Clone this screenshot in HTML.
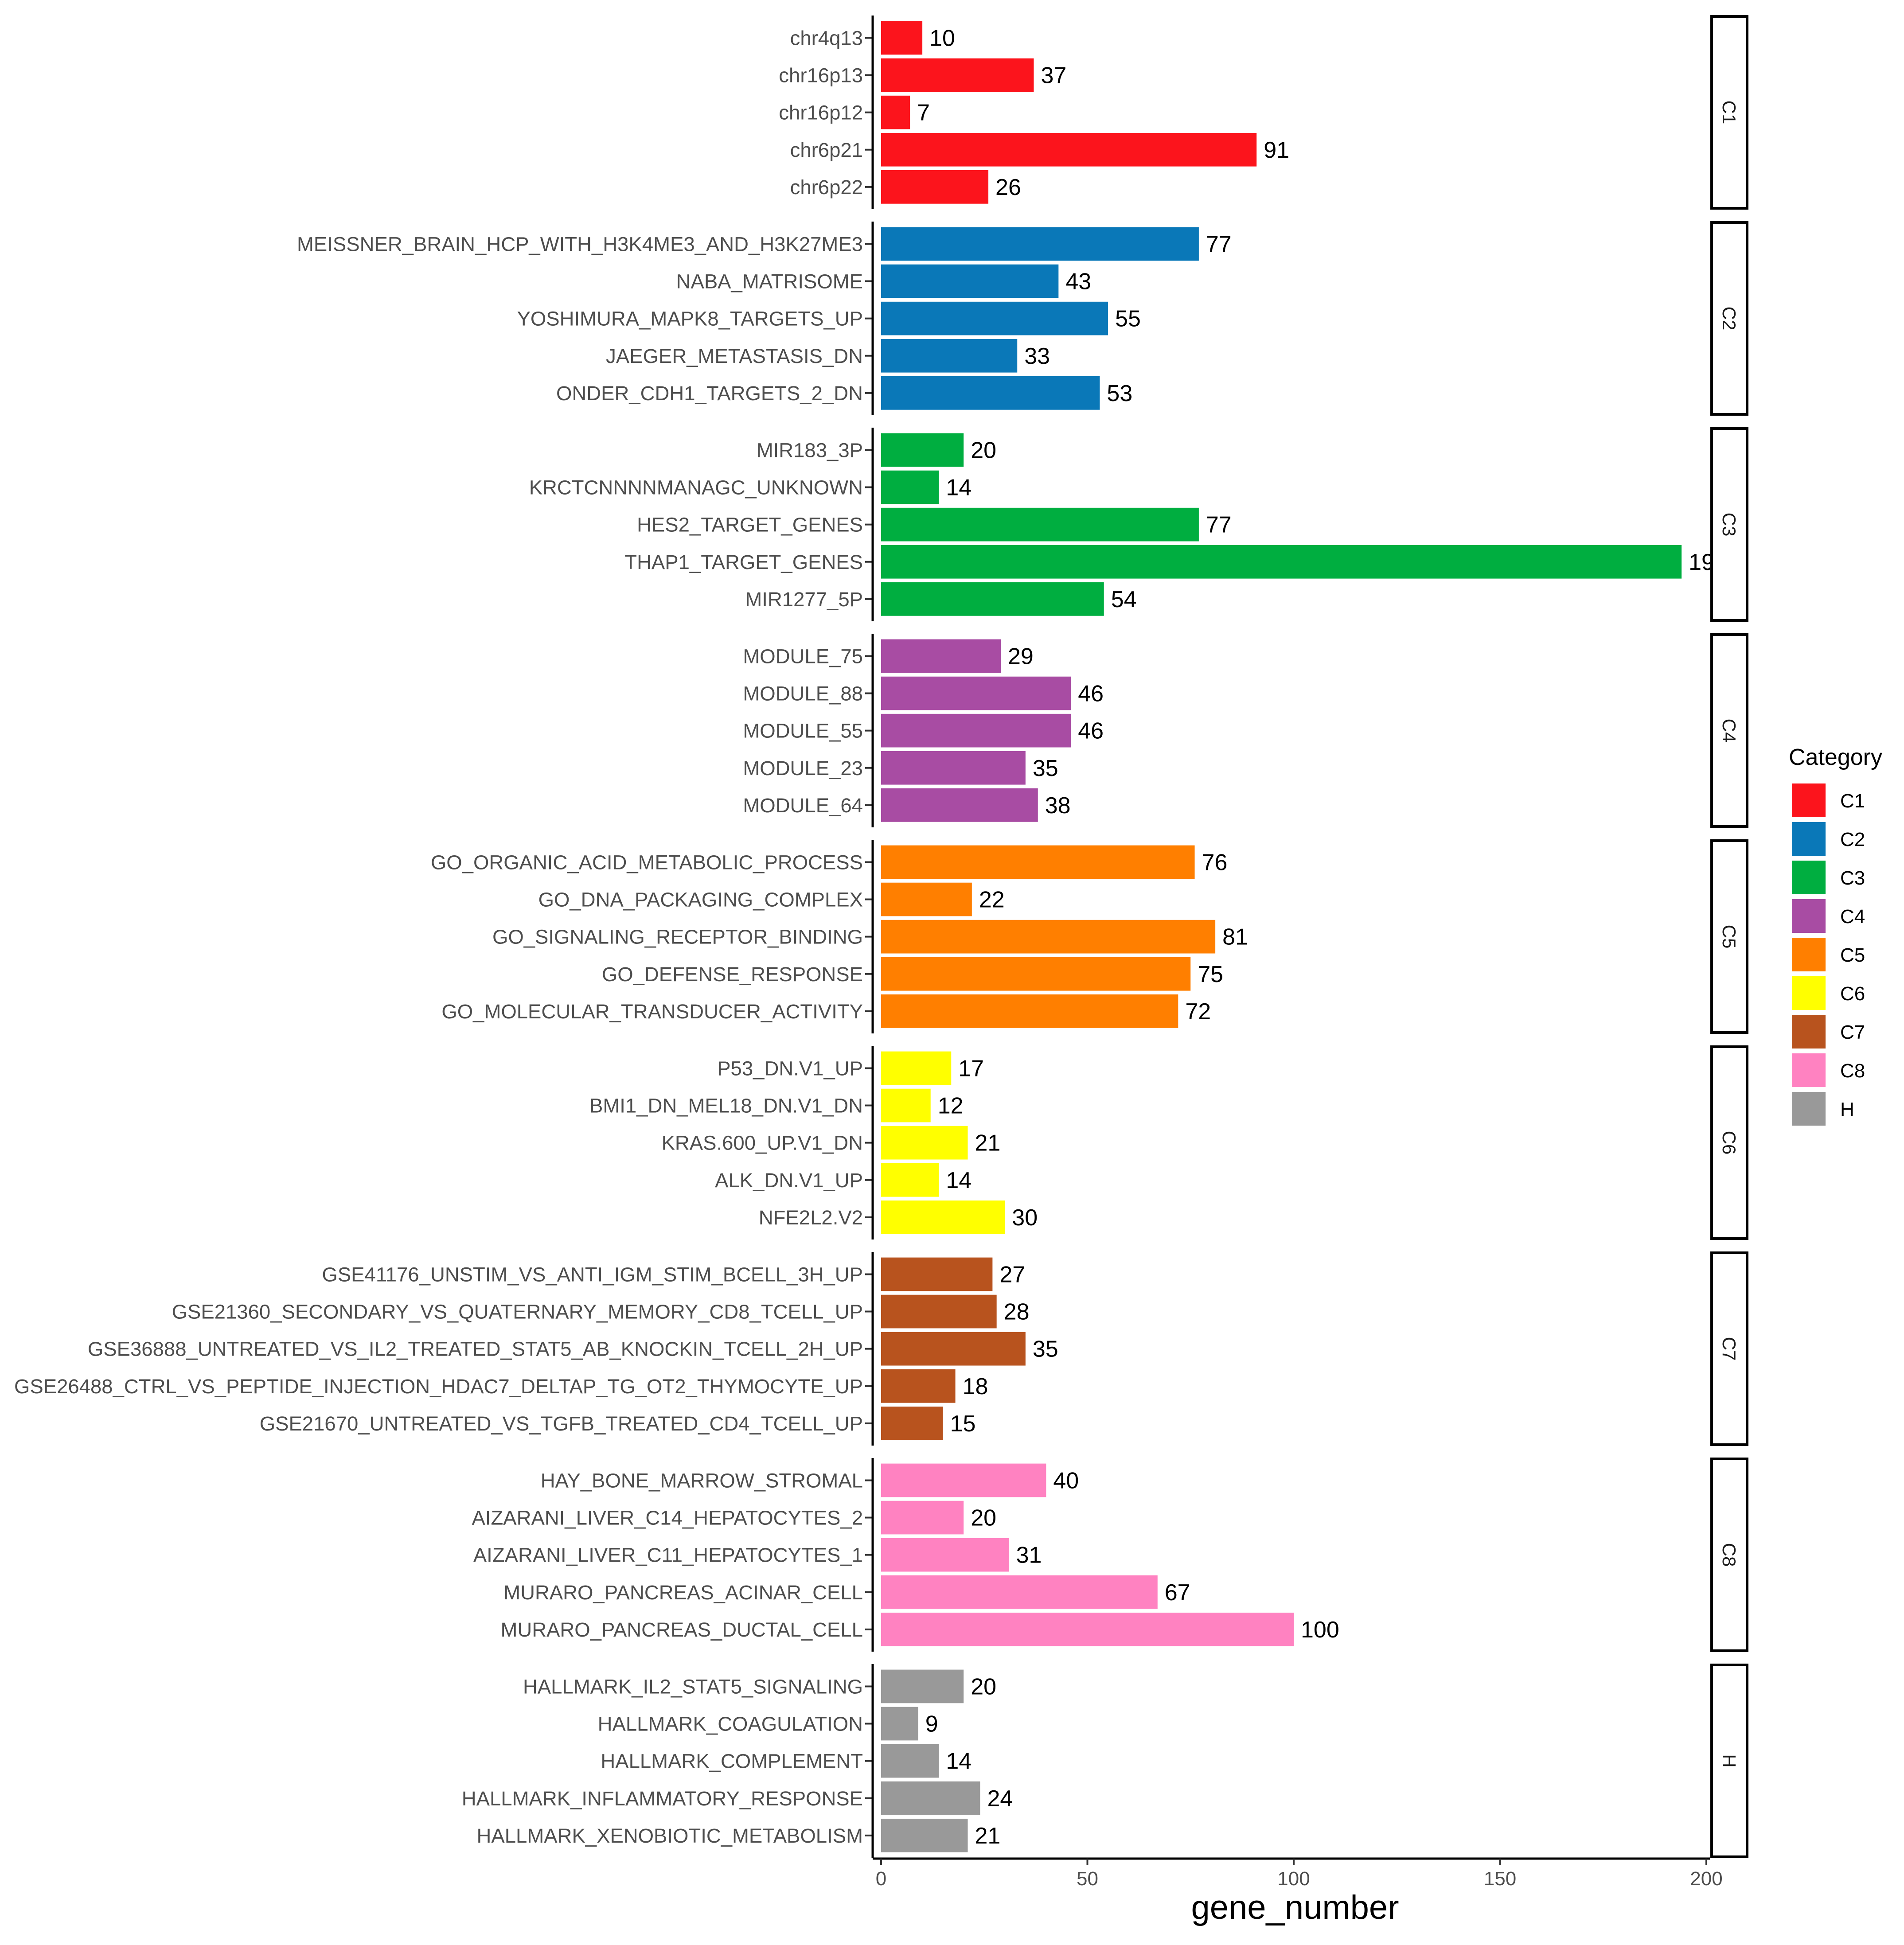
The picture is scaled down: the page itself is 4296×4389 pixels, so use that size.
<!DOCTYPE html>
<html><head><meta charset="utf-8"><style>
html,body{margin:0;padding:0;background:#fff;}
svg{display:block;font-family:"Liberation Sans",Arial,sans-serif;}
</style></head><body>
<svg id="chart" width="4296" height="4389" viewBox="0 0 4296 4389" xmlns="http://www.w3.org/2000/svg">
<rect width="4296" height="4389" fill="#fff"/>
<g id="panels"></g>
<g id="xaxis"></g>
<text x="2922" y="4330" font-size="76" text-anchor="middle" fill="#000">gene_number</text>
<g id="legend"></g>
</svg>
<script>
const categories = ["C1","C2","C3","C4","C5","C6","C7","C8","H"];
const colors = ["#fc141c","#0a78b8","#00ae40","#a84ca3","#ff7f00","#ffff00","#b8531e","#ff82c1","#999999"];
const termsC1 = ["chr4q13","chr16p13","chr16p12","chr6p21","chr6p22"];
const valsC1 = [10,37,7,91,26];
const termsC2 = ["MEISSNER_BRAIN_HCP_WITH_H3K4ME3_AND_H3K27ME3","NABA_MATRISOME","YOSHIMURA_MAPK8_TARGETS_UP","JAEGER_METASTASIS_DN","ONDER_CDH1_TARGETS_2_DN"];
const valsC2 = [77,43,55,33,53];
const termsC3 = ["MIR183_3P","KRCTCNNNNMANAGC_UNKNOWN","HES2_TARGET_GENES","THAP1_TARGET_GENES","MIR1277_5P"];
const valsC3 = [20,14,77,194,54];
const termsC4 = ["MODULE_75","MODULE_88","MODULE_55","MODULE_23","MODULE_64"];
const valsC4 = [29,46,46,35,38];
const termsC5 = ["GO_ORGANIC_ACID_METABOLIC_PROCESS","GO_DNA_PACKAGING_COMPLEX","GO_SIGNALING_RECEPTOR_BINDING","GO_DEFENSE_RESPONSE","GO_MOLECULAR_TRANSDUCER_ACTIVITY"];
const valsC5 = [76,22,81,75,72];
const termsC6 = ["P53_DN.V1_UP","BMI1_DN_MEL18_DN.V1_DN","KRAS.600_UP.V1_DN","ALK_DN.V1_UP","NFE2L2.V2"];
const valsC6 = [17,12,21,14,30];
const termsC7 = ["GSE41176_UNSTIM_VS_ANTI_IGM_STIM_BCELL_3H_UP","GSE21360_SECONDARY_VS_QUATERNARY_MEMORY_CD8_TCELL_UP","GSE36888_UNTREATED_VS_IL2_TREATED_STAT5_AB_KNOCKIN_TCELL_2H_UP","GSE26488_CTRL_VS_PEPTIDE_INJECTION_HDAC7_DELTAP_TG_OT2_THYMOCYTE_UP","GSE21670_UNTREATED_VS_TGFB_TREATED_CD4_TCELL_UP"];
const valsC7 = [27,28,35,18,15];
const termsC8 = ["HAY_BONE_MARROW_STROMAL","AIZARANI_LIVER_C14_HEPATOCYTES_2","AIZARANI_LIVER_C11_HEPATOCYTES_1","MURARO_PANCREAS_ACINAR_CELL","MURARO_PANCREAS_DUCTAL_CELL"];
const valsC8 = [40,20,31,67,100];
const termsH = ["HALLMARK_IL2_STAT5_SIGNALING","HALLMARK_COAGULATION","HALLMARK_COMPLEMENT","HALLMARK_INFLAMMATORY_RESPONSE","HALLMARK_XENOBIOTIC_METABOLISM"];
const valsH = [20,9,14,24,21];
const xTicks = [0,50,100,150,200];

const allTerms=[termsC1,termsC2,termsC3,termsC4,termsC5,termsC6,termsC7,termsC8,termsH];
const allVals=[valsC1,valsC2,valsC3,valsC4,valsC5,valsC6,valsC7,valsC8,valsH];
const NS="http://www.w3.org/2000/svg";
function mk(tag,attrs,parent){const e=document.createElementNS(NS,tag);for(const k in attrs)e.setAttribute(k,attrs[k]);parent.appendChild(e);return e;}
const X0=1988,K=9.31,PL=1969,PR=3858;
function xs(v){return X0+v*K;}
const TOP=35,PITCH=465,PH=437,BAND=84.1;
function ys(p,i){return TOP+p*PITCH+(i+0.6)*BAND;}
const panels=document.getElementById('panels');
const defs=mk('defs',{},document.getElementById('chart'));
categories.forEach((c,p)=>{
  const top=TOP+p*PITCH;
  const cp=mk('clipPath',{id:'clip'+p},defs);
  mk('rect',{x:PL,y:top,width:PR-PL,height:PH},cp);
  const g=mk('g',{},panels);
  
  
  const inner=mk('g',{'clip-path':'url(#clip'+p+')'},g);
  allTerms[p].forEach((t,i)=>{
    const v=allVals[p][i], yc=ys(p,i);
    const r=mk('rect',{x:xs(0),y:yc-BAND*0.45,width:xs(v)-xs(0),height:BAND*0.9,fill:colors[p]},inner);
    
    
    const vl=mk('text',{x:xs(v)+16,y:yc+18,'font-size':52,fill:'#000'},inner);
    vl.textContent=v;
    
    
    const tl=mk('text',{x:1947,y:yc+16,'font-size':45.5,fill:'#4d4d4d','text-anchor':'end'},g);
    tl.textContent=t;
    
    
    mk('line',{x1:1952,x2:PL,y1:yc,y2:yc,stroke:'#333','stroke-width':4},g);
  });
  const ax=mk('line',{x1:PL,x2:PL,y1:top,y2:top+PH,stroke:'#000','stroke-width':5},g);
  
  
  const st=mk('g',{},g);
  
  
  mk('rect',{x:3862,y:top+2,width:80,height:PH-4,fill:'#fff',stroke:'#000','stroke-width':6},st);
  const stx=mk('text',{x:0,y:0,'font-size':42,fill:'#1a1a1a','text-anchor':'middle',transform:'translate(3887,'+(top+PH/2)+') rotate(90)'},st);
  stx.textContent=c;
});
const xa=document.getElementById('xaxis');
const AY=TOP+8*PITCH+PH+2;
mk('line',{x1:PL,x2:PR,y1:AY,y2:AY,stroke:'#000','stroke-width':5},xa);
xTicks.forEach(t=>{
  mk('line',{x1:xs(t),x2:xs(t),y1:AY,y2:AY+15,stroke:'#333','stroke-width':4},xa);
  const tx=mk('text',{x:xs(t),y:AY+60,'font-size':44,fill:'#4d4d4d','text-anchor':'middle'},xa);
  tx.textContent=t;
  
  
});
const lg=document.getElementById('legend');
const lt=mk('text',{x:4036,y:1726,'font-size':52,fill:'#000'},lg);
lt.textContent='Category';


categories.forEach((c,i)=>{
  const y=1768+i*87;
  const e=mk('g',{},lg);
  
  
  mk('rect',{x:4043,y:y,width:76,height:76,fill:colors[i]},e);
  const t=mk('text',{x:4152,y:y+54,'font-size':44,fill:'#000'},e);
  t.textContent=c;
});
</script>
</body></html>
